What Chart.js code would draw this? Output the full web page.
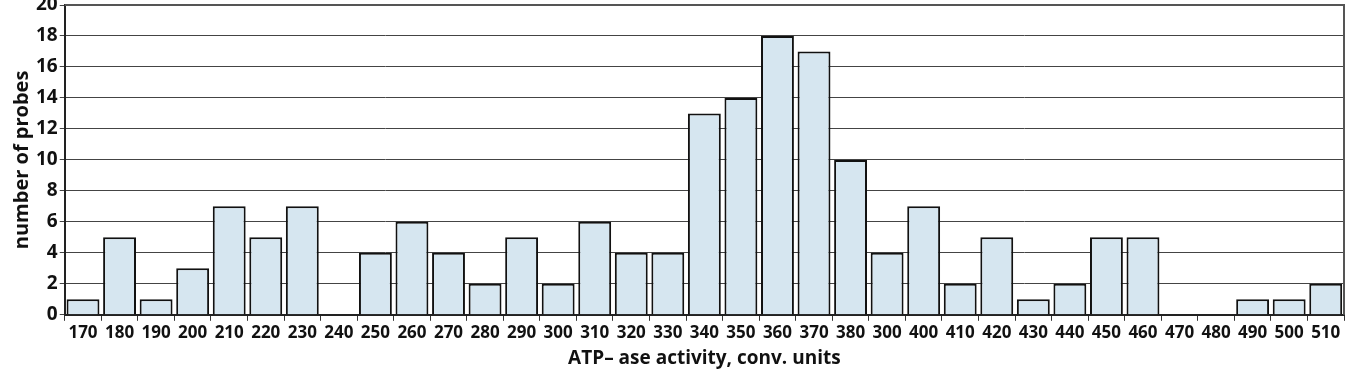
<!DOCTYPE html>
<html><head><meta charset="utf-8">
<script src="https://cdn.jsdelivr.net/npm/chart.js@4/dist/chart.umd.min.js"></script>
<style>html,body{margin:0;padding:0;background:#fff}#wrap{width:1347px;height:383px}</style>
</head><body><div id="wrap"><canvas id="c" width="1347" height="383"></canvas></div>
<script>
const categories = ["170","180","190","200","210","220","230","240","250","260","270","280","290","300","310","320","330","340","350","360","370","380","300","400","410","420","430","440","450","460","470","480","490","500","510"];
const counts = [1,5,1,3,7,5,7,0,4,6,4,2,5,2,6,4,4,13,14,18,17,10,4,7,2,5,1,2,5,5,0,0,1,1,2];
const yTicks = [0,2,4,6,8,10,12,14,16,18,20];
const xTitle = "ATP\u2013 ase activity, conv. units";
const yTitle = "number of probes";

const FONT = "'Open Sans', 'DejaVu Sans', sans-serif";
const frame = {
  id: 'frame',
  afterDraw(chart) {
    const {ctx, chartArea: a} = chart;
    ctx.save();
    ctx.strokeStyle = '#555';
    ctx.lineWidth = 2;
    ctx.beginPath();
    ctx.moveTo(a.left, a.top); ctx.lineTo(a.right, a.top); ctx.lineTo(a.right, a.bottom);
    ctx.stroke();
    ctx.restore();
  }
};
new Chart(document.getElementById('c'), {
  type: 'bar',
  data: { labels: categories, datasets: [{
    data: counts,
    backgroundColor: '#d6e6f0',
    borderColor: '#111',
    borderWidth: ctx => (ctx.raw === 0 ? 0 : 2),
    barPercentage: 0.9,
    categoryPercentage: 1.0
  }]},
  options: {
    responsive: false, animation: false,
    layout: { padding: { left: 10, right: 3, top: 5, bottom: 9 } },
    plugins: { legend: { display: false }, tooltip: { enabled: false } },
    scales: {
      x: {
        grid: { offset: true, drawOnChartArea: false, drawTicks: true, tickLength: 6, color: '#333' },
        border: { color: '#222', width: 2 },
        ticks: { color: '#111', font: { family: FONT, weight: 'bold', size: 17 }, padding: 2, maxRotation: 0, autoSkip: false },
        title: { display: true, text: xTitle, color: '#111', font: { family: FONT, weight: 'bold', size: 19 }, padding: { top: 2 } }
      },
      y: {
        min: 0, max: 20,
        afterBuildTicks: s => { s.ticks = yTicks.map(v => ({ value: v })); },
        afterFit: s => { s.paddingTop = 0; },
        grid: { color: '#444', lineWidth: 1, drawTicks: true, tickLength: 5 },
        border: { color: '#222', width: 2 },
        ticks: { color: '#111', font: { family: FONT, weight: 'bold', size: 19 }, padding: 2 },
        title: { display: true, text: yTitle, color: '#111', font: { family: FONT, weight: 'bold', size: 20 }, padding: { top: 0, bottom: 0 } }
      }
    }
  },
  plugins: [frame]
});
</script></body></html>
